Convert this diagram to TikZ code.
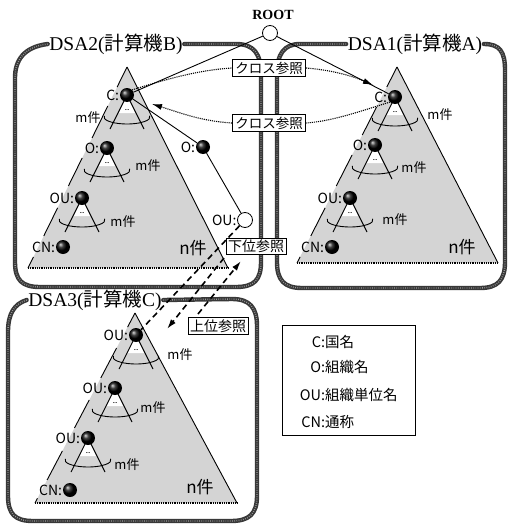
\documentclass[tikz,border=0pt]{standalone}
\usepackage{fontspec}
\setmainfont{Liberation Serif}
\newfontfamily\jp{Noto Sans CJK JP}
\usetikzlibrary{arrows.meta,calc}

\tikzset{
  frame/.style={line width=4.4pt, draw=black!78, line cap=round, line join=round},
  frametex/.style={line width=1.4pt, draw=white, dash pattern=on 0.7pt off 1.5pt, opacity=0.5},
  tri/.style={fill=black!17},
  triedge/.style={line width=0.9pt},
  basel/.style={line width=1.1pt, dash pattern=on 1pt off 0.8pt},
  ballnode/.style={circle, minimum size=14pt, inner sep=0pt, ball color=black},
  hollow/.style={circle, minimum size=15pt, inner sep=0pt, draw, line width=0.8pt, fill=white},
  lbl/.style={font=\jp\fontsize{14}{14}\selectfont, inner sep=0.5pt, anchor=east},
  cnt/.style={font=\jp\fontsize{13}{13}\selectfont, inner sep=0pt},
  ncnt/.style={font=\jp\fontsize{17}{17}\selectfont, inner sep=0pt},
  dots/.style={font=\bfseries\fontsize{6}{6}\selectfont, inner sep=0pt},
  refbox/.style={draw, fill=white, line width=0.8pt, font=\jp\fontsize{13.5}{14}\selectfont, inner xsep=3pt, inner ysep=2.5pt},
  xref/.style={densely dotted, line width=1.1pt},
  dref/.style={dash pattern=on 6pt off 4pt, line width=1.6pt},
  tip/.style={-{Latex[length=10pt,width=6pt]}},
  dsa/.style={font=\fontsize{19.5}{19.5}\selectfont, inner sep=1.5pt},
  link/.style={line width=0.9pt},
  legendtext/.style={font=\jp\fontsize{14.5}{15}\selectfont, inner sep=0pt, anchor=base west},
}

% fan of m children below a node: two edges, the "..." gap and the arc
\newcommand{\conefan}[3]{%
  \fill[white] (#2,#3) -- (#2-8,#3+18) -- (#2+8,#3+18) -- cycle;
  \draw[link] (#2-17,#3+34) -- (#2,#3) -- (#2+17,#3+34);
  \node[dots] (#1) at (#2,#3+15) {...};
  \draw[link] (#2,#3+22) ++(190:23 and 7) arc[start angle=190, end angle=-10, x radius=23, y radius=7];
}

\begin{document}
\begin{tikzpicture}[x=1pt, y=-1pt]
\useasboundingbox[fill=white] (0,0) rectangle (509,525);

% ---------- DSA frames ----------
\node[dsa] (dsa2) at (116,44) {DSA2({\jp 計算機}B)};
\node[dsa] (dsa1) at (415,44) {DSA1({\jp 計算機}A)};
\node[dsa] (dsa3) at (95,300) {DSA3({\jp 計算機}C)};

\foreach \st in {frame, frametex}{
  \draw[\st] (dsa2.west) .. controls (24,47) and (15,60) .. (15,78) -- (15,262)
     .. controls (15,280) and (22,287) .. (40,287) -- (236,287)
     .. controls (254,287) and (261,280) .. (261,262) -- (261,74)
     .. controls (261,54) and (254,44) .. (236,44) -- (dsa2.east);
  \draw[\st] (dsa1.west) -- (300,44) .. controls (284,44) and (277,54) .. (277,74) -- (277,262)
     .. controls (277,280) and (284,288) .. (302,288) -- (480,288)
     .. controls (498,288) and (505,280) .. (505,262) -- (505,70)
     .. controls (505,52) and (500,44) .. (dsa1.east);
  \draw[\st] (dsa3.west) .. controls (14,304) and (8,314) .. (8,332) -- (8,496)
     .. controls (8,514) and (15,521) .. (33,521) -- (231,521)
     .. controls (249,521) and (257,514) .. (257,496) -- (257,326)
     .. controls (257,308) and (250,299) .. (232,299) -- (dsa3.east);
}

% ---------- triangles ----------
\coordinate (t2a) at (127,67);  \coordinate (t2l) at (28,268);  \coordinate (t2r) at (228,268);
\coordinate (t1a) at (397,67);  \coordinate (t1l) at (297,263); \coordinate (t1r) at (498,263);
\coordinate (t3a) at (135,313); \coordinate (t3l) at (35,503);  \coordinate (t3r) at (237,503);

\fill[tri] (t2a) -- (t2l) -- (t2r) -- cycle;
\fill[tri] (t1a) -- (t1l) -- (t1r) -- cycle;
\fill[tri] (t3a) -- (t3l) -- (t3r) -- cycle;
\draw[triedge] (t2a) -- (t2r);
\draw[triedge] (t1a) -- (t1r);
\draw[triedge] (t3a) -- (t3r);
\draw[basel] (t2l) -- (t2r);
\draw[basel] (t1l) -- (t1r);
\draw[basel] (t3l) -- (t3r);
\foreach \s/\e in {0/0.1, 0.194/0.353, 0.453/0.592, 0.701/0.841, 0.945/1}
  \draw[triedge] ($(t2a)!\s!(t2l)$) -- ($(t2a)!\e!(t2l)$);
\foreach \s/\e in {0/0.102, 0.204/0.347, 0.449/0.607, 0.719/0.862, 0.969/1}
  \draw[triedge] ($(t1a)!\s!(t1l)$) -- ($(t1a)!\e!(t1l)$);
\foreach \s/\e in {0/0.074, 0.184/0.342, 0.458/0.605, 0.726/0.879, 0.975/1}
  \draw[triedge] ($(t3a)!\s!(t3l)$) -- ($(t3a)!\e!(t3l)$);

% ---------- subtree fans ----------
\conefan{f2c}{127}{95}   \conefan{f2o}{107}{148}  \conefan{f2u}{82}{198}
\conefan{f1c}{395}{97}   \conefan{f1o}{375}{145}  \conefan{f1u}{350}{198}
\conefan{f3a}{136}{335}  \conefan{f3b}{115}{388}  \conefan{f3c}{88}{438}

% ---------- ROOT ----------
\node[font=\bfseries\fontsize{14}{14}\selectfont, inner sep=0pt] (roottxt) at (273,15) {ROOT};
\node[hollow] (root) at (270,33) {};

% ---------- DSA2 entries ----------
\node[ballnode] (b2c) at (127,95) {};   \node[lbl] (b2cl) at (b2c.west) {C:};
\node[ballnode] (b2o) at (107,148) {};  \node[lbl] (b2ol) at (b2o.west) {O:};
\node[ballnode] (b2u) at (82,198) {};   \node[lbl] (b2ul) at (b2u.west) {OU:};
\node[ballnode] (b2n) at (63,247) {};   \node[lbl] (b2nl) at (b2n.west) {CN:};
\node[ballnode] (b2x) at (203,147) {};  \node[lbl] (b2xl) at (b2x.west) {O:};
\node[hollow] (b2ou) at (245,220) {};   \node[lbl] (b2oul) at (b2ou.west) {OU:};
\node[cnt] (m2c) at (88,118) {m件};
\node[cnt] (m2o) at (148,166) {m件};
\node[cnt] (m2u) at (123,222) {m件};
\node[ncnt] (n2) at (193,248) {n件};

% ---------- DSA1 entries ----------
\node[ballnode] (a1c) at (395,97) {};   \node[lbl] (a1cl) at (a1c.west) {C:};
\node[ballnode] (a1o) at (375,145) {};  \node[lbl] (a1ol) at (a1o.west) {O:};
\node[ballnode] (a1u) at (350,198) {};  \node[lbl] (a1ul) at (a1u.west) {OU:};
\node[ballnode] (a1n) at (332,247) {};  \node[lbl] (a1nl) at (a1n.west) {CN:};
\node[cnt] (m1c) at (440,115) {m件};
\node[cnt] (m1o) at (414,168) {m件};
\node[cnt] (m1u) at (395,220) {m件};
\node[ncnt] (n1) at (462,247) {n件};

% ---------- DSA3 entries ----------
\node[ballnode] (c3a) at (136,335) {};  \node[lbl] (c3al) at (c3a.west) {OU:};
\node[ballnode] (c3b) at (115,388) {};  \node[lbl] (c3bl) at (c3b.west) {OU:};
\node[ballnode] (c3c) at (88,438) {};   \node[lbl] (c3cl) at (c3c.west) {OU:};
\node[ballnode] (c3n) at (70,490) {};   \node[lbl] (c3nl) at (c3n.west) {CN:};
\node[cnt] (m3a) at (180,355) {m件};
\node[cnt] (m3b) at (153,408) {m件};
\node[cnt] (m3c) at (127,465) {m件};
\node[ncnt] (n3) at (200,487) {n件};

% ---------- tree links ----------
\draw[link] (root) -- (b2c);
\draw[link] (root) -- (a1c);
\draw[link] (b2c) -- (b2x);
\draw[link] (b2x) -- (b2ou);

% ---------- cross references ----------
\node[refbox] (xr1) at (269,68) {クロス参照};
\node[refbox] (xr2) at (269,123) {クロス参照};
\coordinate (a1tip) at (373,85);
\coordinate (b2tip) at (152,104);
\draw[xref] (b2c.north east) .. controls (170,78) and (200,70) .. (xr1.west);
\draw[xref, tip] (xr1.east) .. controls (330,70) and (350,75) .. (a1tip);
\draw[xref] (a1c.south west) .. controls (355,113) and (332,121) .. (xr2.east);
\draw[xref, tip] (xr2.west) .. controls (200,121) and (178,112) .. (b2tip);

% ---------- subordinate / superior references ----------
\node[refbox, font=\jp\fontsize{14}{14}\selectfont, inner xsep=2pt, inner ysep=1.5pt] (xd) at (256,246) {下位参照};
\node[refbox, font=\jp\fontsize{14}{14}\selectfont, inner xsep=2pt, inner ysep=2pt] (xu) at (218,326) {上位参照};
\coordinate (dstart) at (224,258);
\coordinate (dend) at (167,329);
\coordinate (ustart) at (198,314);
\coordinate (uend) at (241,261);
\draw[dref] (b2ou) -- (c3a);
\draw[dref, tip] (dstart) -- (dend);
\draw[dref, tip] (ustart) -- (uend);

% ---------- legend ----------
\node[draw, line width=0.8pt, minimum width=133pt, minimum height=110pt, inner sep=0pt] (legend) at (348.5,380) {};
\node[legendtext] (lg1) at (321,347) {\llap{C}:国名};
\node[legendtext] (lg2) at (321,372) {\llap{O}:組織名};
\node[legendtext] (lg3) at (321,400) {\llap{OU}:組織単位名};
\node[legendtext] (lg4) at (321,427) {\llap{CN}:通称};
\end{tikzpicture}
\end{document}
